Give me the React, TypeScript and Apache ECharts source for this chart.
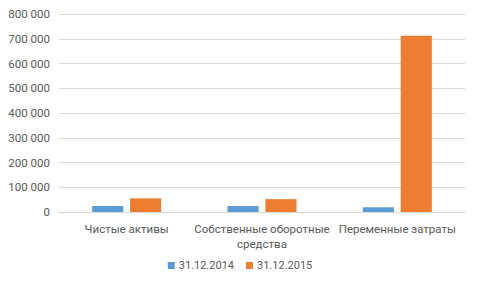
import React, { useEffect, useRef } from "react";
import * as echarts from "echarts";

const categories = ["Чистые активы", "Собственные оборотные\nсредства", "Переменные затраты"];
const series2014 = [24000, 24000, 19000];
const series2015 = [55000, 52000, 712000];
const seriesNames = ["31.12.2014", "31.12.2015"];

export default function App() {
  const ref = useRef<HTMLDivElement>(null);
  useEffect(() => {
    const chart = echarts.init(ref.current!, null, { renderer: "svg" });
    const font = "Roboto";
    chart.setOption({
      animation: false,
      color: ["#5B9BD5", "#ED7D31"],
      grid: { left: 59, right: 15, top: 14, bottom: 76 },
      legend: {
        bottom: 12,
        left: "center",
        itemWidth: 7,
        itemHeight: 7,
        itemGap: 12,
        icon: "rect",
        textStyle: { color: "#595959", fontSize: 11, fontFamily: font, padding: [0, 0, 0, -1] },
        data: seriesNames,
      },
      xAxis: {
        type: "category",
        data: categories,
        axisLine: { lineStyle: { color: "#D9D9D9" } },
        axisTick: { show: false },
        axisLabel: { color: "#595959", fontSize: 11.5, fontFamily: font, margin: 9, lineHeight: 15, interval: 0 },
      },
      yAxis: {
        type: "value",
        min: 0,
        max: 800000,
        interval: 100000,
        axisLine: { show: false },
        axisTick: { show: false },
        splitLine: { lineStyle: { color: "#D9D9D9" } },
        axisLabel: {
          color: "#595959",
          fontSize: 11.5,
          fontFamily: font,
          margin: 9,
          formatter: (v: number) => (v === 0 ? "0" : String(v).replace(/\B(?=(\d{3})+(?!\d))/g, " ")),
        },
      },
      series: [
        { name: seriesNames[0], type: "bar", data: series2014, barGap: "22%", barCategoryGap: "49%" },
        { name: seriesNames[1], type: "bar", data: series2015, barGap: "22%", barCategoryGap: "49%" },
      ],
    });
    return () => chart.dispose();
  }, []);
  return <div ref={ref} style={{ width: 480, height: 288, position: "absolute", left: 0, top: 0 }} />;
}
